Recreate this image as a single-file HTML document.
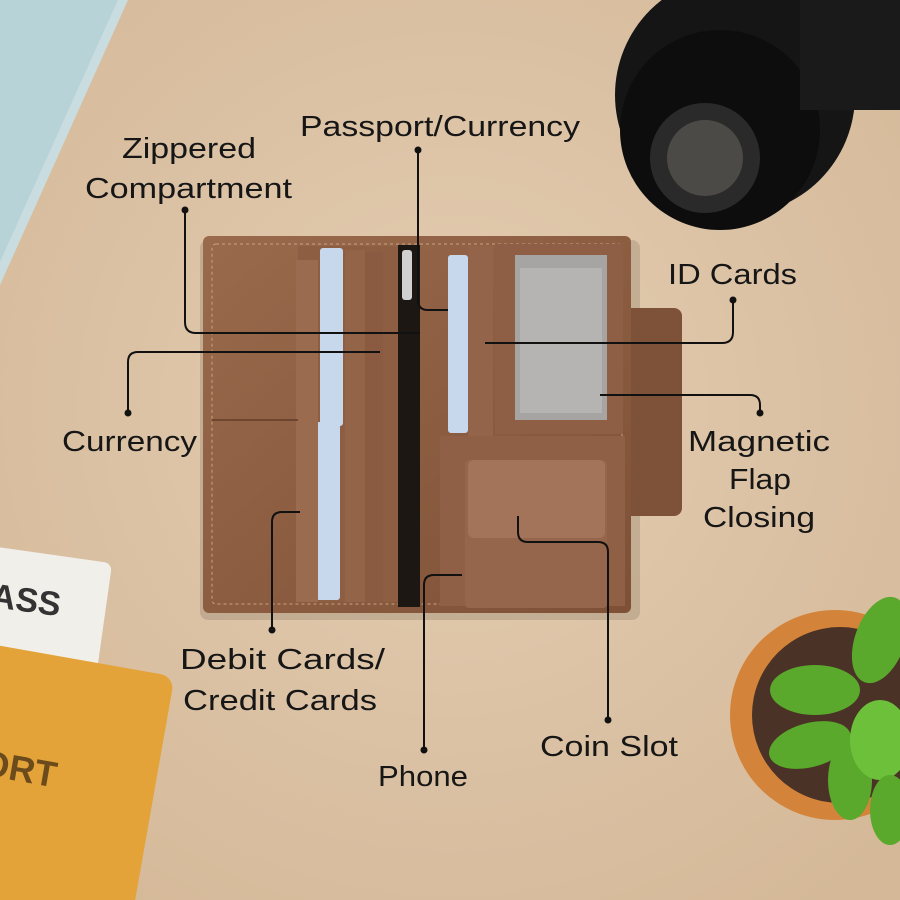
<!DOCTYPE html>
<html><head><meta charset="utf-8"><style>
html,body{margin:0;padding:0;width:900px;height:900px;overflow:hidden;background:#dcc4a8}
svg{display:block;overflow:hidden}
text{font-family:"Liberation Sans",sans-serif;font-size:29px;fill:#161616}
</style></head><body>
<svg width="900" height="900" viewBox="0 0 900 900" xmlns="http://www.w3.org/2000/svg">
<defs>
<radialGradient id="bg" cx="50%" cy="45%" r="70%"><stop offset="0" stop-color="#e4cdb2"/><stop offset="1" stop-color="#d4b898"/></radialGradient>
<linearGradient id="lt" x1="0" y1="0" x2="1" y2="1"><stop offset="0" stop-color="#9a6a4c"/><stop offset="1" stop-color="#7e5036"/></linearGradient>
<clipPath id="c"><rect width="900" height="900"/></clipPath>
</defs>
<g clip-path="url(#c)">
<rect width="900" height="900" fill="url(#bg)"/>
<polygon points="0,0 128,0 0,285" fill="#c9dde0"/>
<polygon points="0,0 118,0 0,262" fill="#b8d3d8"/>
<g transform="rotate(8 50 610)"><rect x="-30" y="555" width="135" height="115" rx="8" fill="#f1efe9"/><text x="-10" y="615" style="font-size:34px;font-weight:bold;fill:#333">ASS</text></g>
<g transform="rotate(10 70 780)"><rect x="-60" y="660" width="215" height="290" rx="14" fill="#e3a338"/><text x="-20" y="790" style="font-size:36px;font-weight:bold;fill:#6b4a1c">ORT</text></g>
<circle cx="735" cy="95" r="120" fill="#151515"/>
<circle cx="720" cy="130" r="100" fill="#0d0d0d"/>
<circle cx="705" cy="158" r="55" fill="#2a2a2a"/>
<circle cx="705" cy="158" r="38" fill="#4c4a46"/>
<rect x="800" y="0" width="100" height="110" fill="#1a1a1a"/>
<circle cx="835" cy="715" r="105" fill="#d4843a"/>
<circle cx="840" cy="715" r="88" fill="#4a3226"/>
<g fill="#5aa82c">
<ellipse cx="880" cy="640" rx="25" ry="45" transform="rotate(20 880 640)"/>
<ellipse cx="815" cy="690" rx="45" ry="25"/>
<ellipse cx="810" cy="745" rx="42" ry="22" transform="rotate(-15 810 745)"/>
<ellipse cx="850" cy="780" rx="22" ry="40"/>
<ellipse cx="880" cy="740" rx="30" ry="40" fill="#6cc03a"/>
<ellipse cx="890" cy="810" rx="20" ry="35"/>
</g>
<rect x="200" y="240" width="440" height="380" rx="8" fill="#000" opacity="0.12"/>
<rect x="622" y="308" width="60" height="208" rx="8" fill="#7e5238"/>
<rect x="203" y="236" width="428" height="377" rx="6" fill="url(#lt)"/>
<rect x="212" y="244" width="410" height="360" rx="4" fill="none" stroke="#c9a283" stroke-width="1" stroke-dasharray="3 3"/>
<rect x="298" y="246" width="102" height="356" fill="#8d5e42"/>
<rect x="320" y="248" width="23" height="178" rx="3" fill="#c8d8ec"/>
<rect x="316" y="422" width="24" height="178" rx="3" fill="#c8d8ec"/>
<rect x="296" y="260" width="22" height="342" fill="#9a6b4e"/>
<rect x="345" y="250" width="20" height="352" fill="#946449"/>
<rect x="365" y="252" width="18" height="350" fill="#8a5b40"/>
<line x1="212" y1="420" x2="298" y2="420" stroke="#6e452e" stroke-width="2"/>
<rect x="398" y="245" width="22" height="362" fill="#1d1714"/>
<rect x="402" y="250" width="10" height="50" rx="3" fill="#d0d0d0"/>
<rect x="448" y="255" width="20" height="178" rx="3" fill="#c8d8ec"/>
<rect x="468" y="246" width="25" height="190" fill="#93644a"/>
<rect x="495" y="244" width="128" height="190" fill="#8e5f44"/>
<rect x="515" y="255" width="92" height="165" fill="#a7a5a4"/>
<rect x="520" y="268" width="82" height="145" fill="#b6b4b3"/>
<rect x="440" y="436" width="185" height="170" fill="#8f6046"/>
<rect x="465" y="460" width="142" height="148" rx="4" fill="#95664b"/>
<rect x="468" y="460" width="137" height="78" rx="6" fill="#a3745a"/>
<g fill="none" stroke="#111" stroke-width="2">
<path d="M418 150 V300 Q418 310 428 310 H448"/>
<path d="M185 210 V322 Q185 333 196 333 H420"/>
<path d="M733 300 V332 Q733 343 722 343 H485"/>
<path d="M128 413 V362 Q128 352 138 352 H380"/>
<path d="M760 413 V405 Q760 395 750 395 H600"/>
<path d="M272 630 V522 Q272 512 282 512 H300"/>
<path d="M424 750 V585 Q424 575 434 575 H462"/>
<path d="M608 720 V552 Q608 542 598 542 H528 Q518 542 518 532 V516"/>
</g>
<g fill="#111">
<circle cx="418" cy="150" r="3.5"/><circle cx="185" cy="210" r="3.5"/><circle cx="733" cy="300" r="3.5"/>
<circle cx="128" cy="413" r="3.5"/><circle cx="760" cy="413" r="3.5"/><circle cx="272" cy="630" r="3.5"/>
<circle cx="424" cy="750" r="3.5"/><circle cx="608" cy="720" r="3.5"/>
</g>
<text x="300" y="136" textLength="280" lengthAdjust="spacingAndGlyphs">Passport/Currency</text>
<text x="122" y="158" textLength="134" lengthAdjust="spacingAndGlyphs">Zippered</text>
<text x="85" y="198" textLength="207" lengthAdjust="spacingAndGlyphs">Compartment</text>
<text x="668" y="284" textLength="129" lengthAdjust="spacingAndGlyphs">ID Cards</text>
<text x="62" y="451" textLength="135" lengthAdjust="spacingAndGlyphs">Currency</text>
<text x="688" y="451" textLength="142" lengthAdjust="spacingAndGlyphs">Magnetic</text>
<text x="729" y="489" textLength="62" lengthAdjust="spacingAndGlyphs">Flap</text>
<text x="703" y="527" textLength="112" lengthAdjust="spacingAndGlyphs">Closing</text>
<text x="180" y="669" textLength="205" lengthAdjust="spacingAndGlyphs">Debit Cards/</text>
<text x="183" y="710" textLength="194" lengthAdjust="spacingAndGlyphs">Credit Cards</text>
<text x="540" y="756" textLength="138" lengthAdjust="spacingAndGlyphs">Coin Slot</text>
<text x="378" y="786" textLength="90" lengthAdjust="spacingAndGlyphs">Phone</text>
</g>
</svg>
</body></html>
